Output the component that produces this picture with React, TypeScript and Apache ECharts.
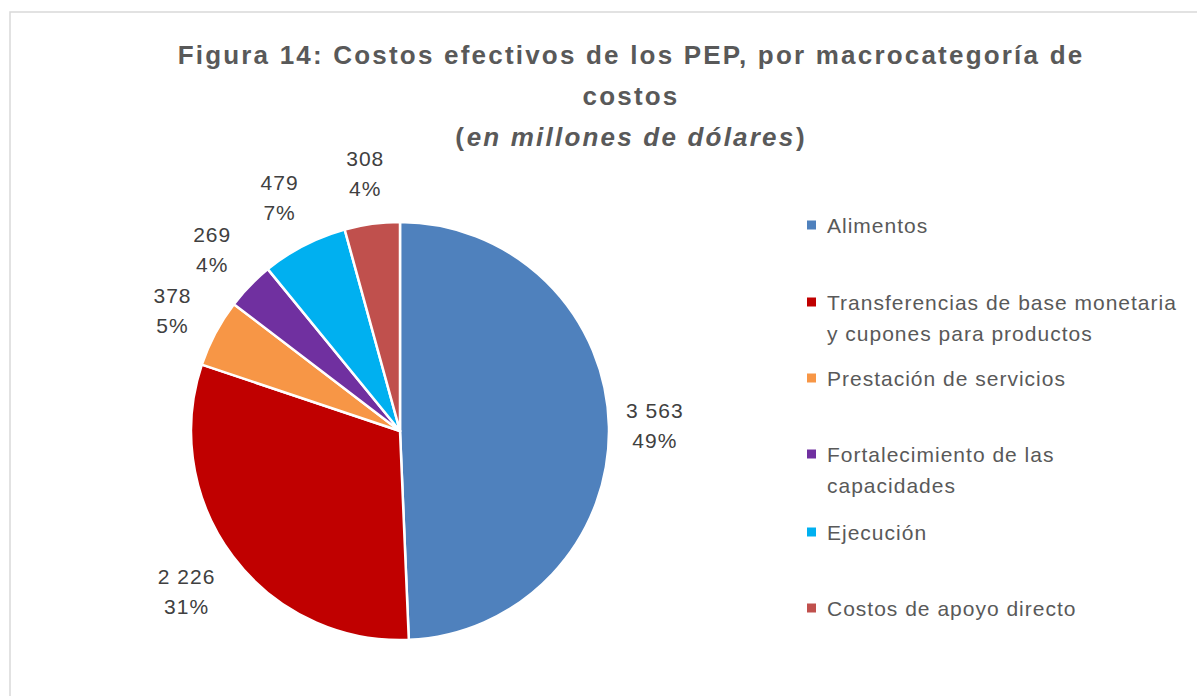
import React, { useEffect, useRef } from "react";
import * as echarts from "echarts";

const categories = [
  "Alimentos",
  "Transferencias de base monetaria y cupones para productos",
  "Prestación de servicios",
  "Fortalecimiento de las capacidades",
  "Ejecución",
  "Costos de apoyo directo",
];
const legendLabels = [
  "Alimentos",
  "Transferencias de base monetaria\ny cupones para productos",
  "Prestación de servicios",
  "Fortalecimiento de las\ncapacidades",
  "Ejecución",
  "Costos de apoyo directo",
];
const values = [3563, 2226, 378, 269, 479, 308];
const colors = ["#4F81BD", "#C00000", "#F79646", "#7030A0", "#00B0F0", "#C0504D"];

const FONT = "Liberation Sans, Arial, sans-serif";
const CX = 400;
const CY = 431;
const R = 209;
const GAP = 19;
const legendCenters = [225, 302, 378, 454, 532, 608];

function fmtThousands(v: number) {
  return String(v).replace(/\B(?=(\d{3})+(?!\d))/g, " ");
}

export default function App() {
  const ref = useRef<HTMLDivElement>(null);
  useEffect(() => {
    if (!ref.current) return;
    const chart = echarts.init(ref.current, null, { renderer: "svg" });
    const total = values.reduce((a, b) => a + b, 0);
    const mids: number[] = [];
    let acc = 0;
    values.forEach((v) => {
      mids.push(((acc + v / 2) / total) * Math.PI * 2);
      acc += v;
    });

    const legends = categories.map((name, i) => {
      const twoLine = legendLabels[i].includes("\n");
      // For two-line entries a blank leading line keeps the icon level with the first line
      const shown = twoLine ? "\n" + legendLabels[i] : legendLabels[i];
      return {
        data: [name],
        orient: "vertical",
        left: 805,
        top: legendCenters[i] - (twoLine ? 46.5 : 15.5),
        padding: 0,
        itemWidth: 11,
        itemHeight: 11,
        icon: "rect",
        selectedMode: false,
        formatter: () => shown,
        textStyle: {
          fontFamily: FONT,
          fontSize: 21,
          color: "#595959",
          lineHeight: 31,
          padding: [0, 0, 0, 5],
        },
      };
    });

    chart.setOption({
      animation: false,
      backgroundColor: "#ffffff",
      textStyle: { fontFamily: FONT },
      color: colors,
      title: {
        left: 631,
        top: 34,
        textAlign: "center",
        padding: 0,
        text:
          "{b|Figura 14: Costos efectivos de los PEP, por macrocategoría de}\n{b|costos}\n{b|(}{i|en millones de dólares}{b|)}",
        textStyle: {
          lineHeight: 41,
          rich: {
            b: {
              fontFamily: FONT,
              fontSize: 26,
              fontWeight: "bold",
              color: "#595959",
              lineHeight: 41,
              align: "center",
            },
            i: {
              fontFamily: FONT,
              fontSize: 26,
              fontWeight: "bold",
              fontStyle: "italic",
              color: "#595959",
              lineHeight: 41,
              align: "center",
              width: 332,
            },
          },
        },
      },
      legend: legends,
      graphic: [
        {
          type: "rect",
          z: -10,
          shape: { x: 10, y: 12, width: 1300, height: 800 },
          style: { fill: "none", stroke: "#D9D9D9", lineWidth: 1.5 },
        },
      ],
      series: [
        {
          type: "pie",
          center: [CX, CY],
          radius: R,
          startAngle: 90,
          clockwise: true,
          avoidLabelOverlap: false,
          emphasis: { scale: false },
          itemStyle: { borderColor: "#ffffff", borderWidth: 2.5 },
          label: {
            show: true,
            position: "outside",
            fontFamily: FONT,
            fontSize: 21,
            lineHeight: 30,
            color: "#404040",
            align: "center",
            formatter: (p: any) =>
              fmtThousands(p.value) + "\n" + Math.round((p.value / total) * 100) + "%",
          },
          labelLine: { show: false },
          labelLayout: (params: any) => {
            const a = mids[params.dataIndex];
            const dx = Math.sin(a);
            const dy = -Math.cos(a);
            const hw = params.labelRect.width / 2;
            const hh = params.labelRect.height / 2;
            const d = R + GAP + Math.abs(dx) * hw + Math.abs(dy) * hh;
            return {
              x: CX + dx * d,
              y: CY + dy * d,
              align: "center",
              verticalAlign: "middle",
            };
          },
          data: categories.map((name, i) => ({ name, value: values[i] })),
        },
      ],
    });
    return () => chart.dispose();
  }, []);

  return (
    <>
      <style>{`
        .pep-chart text[style*="26px"] { letter-spacing: 2.2px; }
        .pep-chart text[style*="21px"] { letter-spacing: 1px; }
      `}</style>
      <div
        className="pep-chart"
        ref={ref}
        style={{ position: "absolute", left: 0, top: 0, width: 1197, height: 696 }}
      />
    </>
  );
}
